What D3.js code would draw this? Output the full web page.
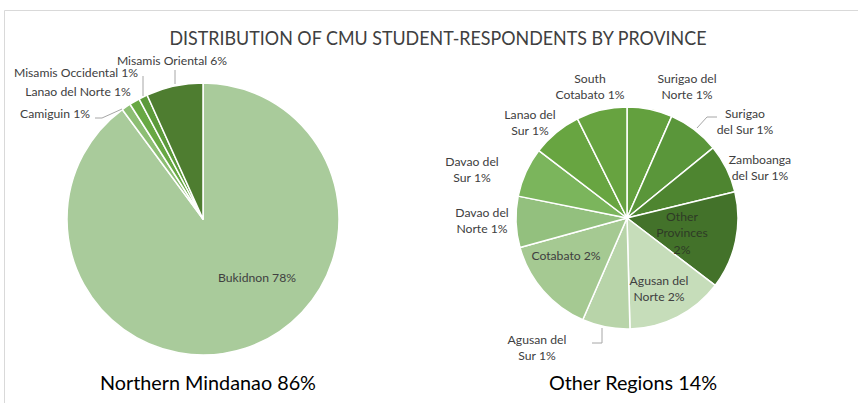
<!DOCTYPE html>
<html><head><meta charset="utf-8">
<script src="https://cdn.jsdelivr.net/npm/d3@7"></script>
<style>body{margin:0;background:#fff}svg{display:block;font-family:Lato,'Open Sans',sans-serif}</style>
</head><body><svg id="c" width="858" height="403"></svg>
<script>
// ---- data ----
const title = "DISTRIBUTION OF CMU STUDENT-RESPONDENTS BY PROVINCE";
const leftTitle = "Northern Mindanao 86%";
const rightTitle = "Other Regions 14%";

const leftNames = ["Bukidnon","Camiguin","Lanao del Norte","Misamis Occidental","Misamis Oriental"];
const leftValues = [77.3, 0.95, 1.05, 0.9, 5.8];
const leftLabels = [["Bukidnon 78%"],["Camiguin 1%"],["Lanao del Norte 1%"],["Misamis Occidental 1%"],["Misamis Oriental 6%"]];

const rightNames = ["Surigao del Norte","Surigao del Sur","Zamboanga del Sur","Other Provinces","Agusan del Norte","Agusan del Sur","Cotabato","Davao del Norte","Davao del Sur","Lanao del Sur","South Cotabato"];
const rightValues = [0.93, 1.06, 1.0, 2.0, 2.0, 0.98, 2.0, 1.05, 1.02, 1.02, 1.04];
const rightLabels = [["Surigao del","Norte 1%"],["Surigao","del Sur 1%"],["Zamboanga","del Sur 1%"],["Other","Provinces","2%"],["Agusan del","Norte 2%"],["Agusan del","Sur 1%"],["Cotabato 2%"],["Davao del","Norte 1%"],["Davao del","Sur 1%"],["Lanao del","Sur 1%"],["South","Cotabato 1%"]];

// ---- style / layout ----
const leftColors = ["#a9cb9b","#8dbe74","#68a843","#5c9a3a","#4e7d30"];
const rightColors = ["#63a03e","#5a963a","#4e8530","#43722a","#c6ddba","#b8d4a9","#a5c992","#93c07e","#7bb55c","#68a541","#67a340"];
// label centres relative to pie centre
const leftLabelPos = [[54,59],[-148,-105],[-125,-127],[-127,-146],[-31,-158]];
const rightLabelPos = [[60,-131],[118,-96],[133,-50],[55,15],[32,71],[-90,130],[-61,38],[-145,3],[-155,-48],[-97,-95],[-37,-131]];
const leftLeaders = {1:[[-108,-101],[-101,-101],[-81,-110]], 3:[[-60,-143],[-60,-123]], 4:[[-28,-149],[-28,-135]]};
const rightLeaders = {1:[[70,-90],[80,-101],[90,-101]], 5:[[-35,125],[-25,125],[-25,110]]};

const svg = d3.select("#c");
// frame
svg.append("path").attr("d","M4.5,403 V10.5 H858").attr("fill","none").attr("stroke","#d9d9d9").attr("stroke-width",1);

svg.append("text").attr("x",438).attr("y",45).attr("text-anchor","middle")
  .attr("font-size",19.5).attr("fill","#404040").attr("textLength",537).attr("lengthAdjust","spacingAndGlyphs").text(title);

function drawPie(cx, cy, r, values, colors, labels, labelPos, leaders, darkIdx){
  const g = svg.append("g").attr("transform",`translate(${cx},${cy})`);
  const pie = d3.pie().sort(null).value(d=>d)(values);
  const arc = d3.arc().innerRadius(0).outerRadius(r);
  g.selectAll("path.s").data(pie).join("path").attr("class","s")
    .attr("d",arc).attr("fill",(d,i)=>colors[i]).attr("stroke","#fff").attr("stroke-width",1.5).attr("stroke-linejoin","round");
  Object.entries(leaders).forEach(([k,pts])=>{
    g.append("path").attr("d",d3.line()(pts)).attr("fill","none").attr("stroke","#a6a6a6").attr("stroke-width",1);
  });
  labels.forEach((lines,i)=>{
    const [lx,ly] = labelPos[i];
    const lh = 16.5;
    const t = g.append("text").attr("text-anchor","middle").attr("font-size",12.2)
      .attr("fill", darkIdx===i ? "#2e3a26" : "#404040");
    lines.forEach((ln,j)=>{
      t.append("tspan").attr("x",lx).attr("y",ly + (j-(lines.length-1)/2)*lh + 4).text(ln);
    });
  });
  return g;
}
drawPie(203,219,136,leftValues,leftColors,leftLabels,leftLabelPos,leftLeaders,-1);
drawPie(627,218,111,rightValues,rightColors,rightLabels,rightLabelPos,rightLeaders,3);

svg.append("text").attr("x",208).attr("y",390).attr("text-anchor","middle").attr("font-size",19.8).attr("fill","#000").text(leftTitle);
svg.append("text").attr("x",633).attr("y",390).attr("text-anchor","middle").attr("font-size",19.8).attr("fill","#000").text(rightTitle);
</script></body></html>
